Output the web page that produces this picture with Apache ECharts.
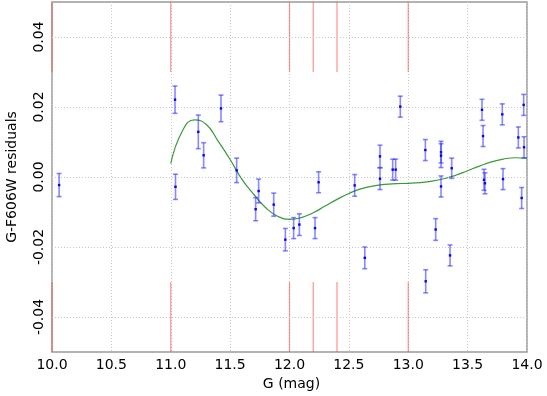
<!DOCTYPE html>
<html>
<head>
<meta charset="utf-8">
<script src="https://cdn.jsdelivr.net/npm/echarts@6/dist/echarts.min.js"></script>
<style>html,body{margin:0;padding:0;background:#fff}#c{width:547px;height:396px}</style>
</head>
<body>
<div id="c"></div>
<script>
// ---- data ----
const ptX = [10.06, 11.036, 11.04, 11.232, 11.277, 11.423, 11.555, 11.715, 11.74, 11.867, 11.965, 12.035, 12.083, 12.215, 12.245, 12.549, 12.634, 12.762, 12.762, 12.869, 12.894, 12.933, 13.144, 13.147, 13.231, 13.276, 13.276, 13.276, 13.352, 13.366, 13.621, 13.63, 13.638, 13.646, 13.792, 13.798, 13.927, 13.955, 13.972, 13.975];
const ptY = [-0.0023, 0.0221, -0.0028, 0.0129, 0.0062, 0.0196, 0.0019, -0.0092, -0.0040, -0.0079, -0.0179, -0.0146, -0.0136, -0.0146, -0.0015, -0.0024, -0.0231, 0.0059, -0.0005, 0.0021, 0.0021, 0.0201, 0.0077, -0.0298, -0.0150, 0.0071, 0.0061, -0.0027, -0.0224, 0.0025, 0.0192, 0.0117, -0.0008, -0.0018, 0.0179, -0.0006, 0.0113, -0.0060, 0.0206, 0.0085];
const ptErr = [0.0033, 0.0039, 0.0036, 0.0048, 0.0036, 0.0038, 0.0035, 0.0033, 0.0034, 0.0033, 0.0032, 0.0030, 0.0031, 0.0030, 0.0030, 0.0031, 0.0031, 0.0032, 0.0031, 0.0030, 0.0030, 0.0030, 0.0030, 0.0033, 0.0031, 0.0031, 0.0034, 0.0030, 0.0030, 0.0029, 0.0030, 0.0030, 0.0030, 0.0030, 0.0030, 0.0030, 0.0030, 0.0030, 0.0030, 0.0030];

const fitX = [11.0, 11.1, 11.2, 11.3, 11.4, 11.5, 11.6, 11.7, 11.8, 11.9, 12.0, 12.1, 12.2, 12.3, 12.4, 12.5, 12.6, 12.7, 12.8, 12.9, 13.0, 13.1, 13.2, 13.3, 13.4, 13.5, 13.6, 13.7, 13.8, 13.9, 14.0];
const fitY = [0.0038, 0.0133, 0.0163, 0.0150, 0.0102, 0.0050, -0.0007, -0.0050, -0.0088, -0.0112, -0.0121, -0.0116, -0.0102, -0.0083, -0.0064, -0.0047, -0.0034, -0.0026, -0.0021, -0.0019, -0.0018, -0.0016, -0.0012, -0.0005, 0.0005, 0.0018, 0.0031, 0.0043, 0.0051, 0.0055, 0.0053];

const vlineX = [10.0, 11.0, 12.0, 12.2, 12.4, 13.0];
const vlineSpans = [[0.03, 0.05], [-0.05, -0.03]];

const yTicks = [-0.04, -0.02, 0.0, 0.02, 0.04];

// ---- build ----
const errData = ptX.map((x, i) => [x, ptY[i], ptErr[i]]);
const fitData = fitX.map((x, i) => [x, fitY[i]]);
const vData = [];
vlineX.forEach(x => vlineSpans.forEach(s => vData.push([x, s[0], s[1]])));

const FONT = 'DejaVu Sans';
const chart = echarts.init(document.getElementById('c'), null, {renderer: 'canvas'});
chart.setOption({
  animation: false,
  backgroundColor: '#fff',
  grid: {left: 52, right: 20, top: 2, bottom: 44, containLabel: false, outerBoundsMode: 'none',
    show: true, borderColor: '#9a9a9a', borderWidth: 1.5, backgroundColor: 'transparent'},
  xAxis: {
    type: 'value', min: 10, max: 14, interval: 0.5,
    name: 'G (mag)', nameLocation: 'middle', nameGap: 24,
    nameTextStyle: {fontFamily: FONT, fontSize: 14, color: '#000', padding: [0, 0, 0, 4]},
    axisLine: {show: false}, axisTick: {show: false},
    axisLabel: {fontFamily: FONT, fontSize: 14, color: '#000', margin: 6, formatter: v => v.toFixed(1)},
    splitLine: {show: true, lineStyle: {color: '#c8c8c8', type: [1, 2], width: 1}}
  },
  yAxis: {
    type: 'value', min: -0.05, max: 0.05, interval: 0.01,
    name: 'G-F606W residuals', nameLocation: 'middle', nameGap: 33,
    nameTextStyle: {fontFamily: FONT, fontSize: 14, color: '#000'},
    axisLine: {show: false}, axisTick: {show: false},
    axisLabel: {fontFamily: FONT, fontSize: 14, color: '#000', rotate: 90, margin: 6,
      formatter: v => { const r = Math.round(v * 100); return (r % 2 === 0) ? (r / 100).toFixed(2) : ''; }},
    splitLine: {show: false}
  },
  series: [
    {
      type: 'line', data: [], silent: true,
      markLine: {silent: true, symbol: 'none', label: {show: false},
        lineStyle: {color: '#c8c8c8', type: [1, 2], width: 1},
        data: yTicks.map(v => ({yAxis: v}))}
    },
    {
      type: 'custom', data: vData, silent: true, z: 3,
      renderItem: (params, api) => {
        const p0 = api.coord([api.value(0), api.value(1)]);
        const p1 = api.coord([api.value(0), api.value(2)]);
        return {type: 'line', shape: {x1: p0[0], y1: p0[1], x2: p1[0], y2: p1[1]},
          style: {stroke: 'rgba(255,60,60,0.55)', lineWidth: 1.2}};
      }
    },
    {
      type: 'line', data: fitData, smooth: 0.5, showSymbol: false, silent: true, z: 4,
      lineStyle: {color: '#3a9a3a', width: 1.2}
    },
    {
      type: 'custom', data: errData, silent: true, z: 5,
      renderItem: (params, api) => {
        const x = api.value(0), y = api.value(1), e = api.value(2);
        const c = api.coord([x, y]);
        const t = api.coord([x, y + e]);
        const b = api.coord([x, y - e]);
        const cap = 2.5;
        const st = {stroke: 'rgba(40,40,255,0.55)', lineWidth: 1.6};
        return {type: 'group', children: [
          {type: 'line', shape: {x1: c[0], y1: t[1], x2: c[0], y2: b[1]}, style: st},
          {type: 'line', shape: {x1: c[0] - cap, y1: t[1], x2: c[0] + cap, y2: t[1]}, style: st},
          {type: 'line', shape: {x1: c[0] - cap, y1: b[1], x2: c[0] + cap, y2: b[1]}, style: st},
          {type: 'rect', shape: {x: c[0] - 1.2, y: c[1] - 1.2, width: 2.4, height: 2.4}, style: {fill: '#0000ff'}}
        ]};
      }
    }
  ]
});
</script>
</body>
</html>
